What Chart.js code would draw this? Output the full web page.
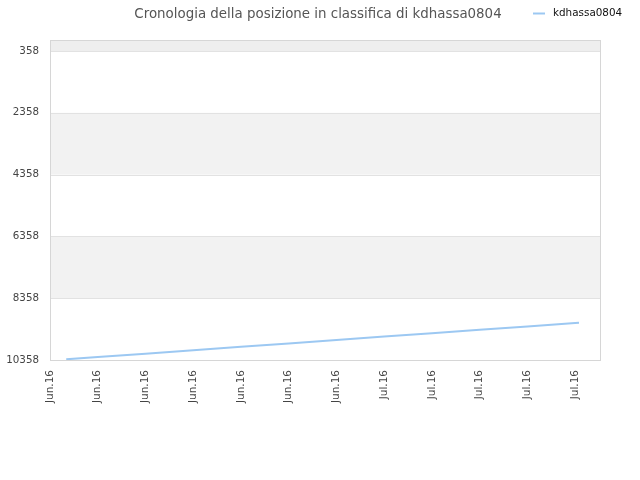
<!DOCTYPE html>
<html>
<head>
<meta charset="utf-8">
<script src="https://cdn.jsdelivr.net/npm/chart.js@4"></script>
<style>
html,body{margin:0;padding:0;background:#fff;}
canvas{display:block;}
</style>
</head>
<body>
<canvas id="c" width="640" height="480"></canvas>
<script>
const titleText = "Cronologia della posizione in classifica di kdhassa0804";
const seriesName = "kdhassa0804";
const xTickLabels = ["Jun.16","Jun.16","Jun.16","Jun.16","Jun.16","Jun.16","Jun.16","Jul.16","Jul.16","Jul.16","Jul.16","Jul.16"];
const pointPos = [0.34, 1, 2, 3, 4, 5, 6, 7, 8, 9, 10, 11, 11.08];
const ranks = [10335, 10262, 10152, 10041, 9931, 9821, 9711, 9600, 9490, 9380, 9270, 9160, 9151];
const yTickValues = [358, 2358, 4358, 6358, 8358, 10358];
const xMax = 11.52;
const yMin = 1;
const yMax = 10358;

const lineColor = '#9cc8f2';

const bandPlugin = {
  id: 'bands',
  beforeDatasetsDraw(chart) {
    const {ctx, chartArea: a, scales: {y}} = chart;
    ctx.save();
    const ranges = [[yMin, yTickValues[0], '#eeeeee'], [yTickValues[1], yTickValues[2], '#f2f2f2'], [yTickValues[3], yTickValues[4], '#f2f2f2']];
    ranges.forEach(([v1, v2, col]) => {
      const p1 = y.getPixelForValue(v1), p2 = y.getPixelForValue(v2);
      ctx.fillStyle = col;
      ctx.fillRect(a.left, Math.min(p1, p2), a.right - a.left, Math.abs(p2 - p1));
    });
    ctx.strokeStyle = '#e2e2e2';
    ctx.lineWidth = 1;
    yTickValues.forEach(v => {
      const p = Math.round(y.getPixelForValue(v)) + 0.5;
      ctx.beginPath(); ctx.moveTo(a.left, p); ctx.lineTo(a.right, p); ctx.stroke();
    });
    ctx.strokeStyle = '#d6d6d6';
    ctx.strokeRect(Math.round(a.left) + 0.5, Math.round(a.top) + 0.5, Math.round(a.right - a.left), Math.round(a.bottom - a.top));
    ctx.restore();
  },
  afterDraw(chart) {
    const ctx = chart.ctx;
    const ds = chart.data.datasets[0];
    ctx.save();
    ctx.strokeStyle = ds.borderColor;
    ctx.lineWidth = 2;
    ctx.beginPath(); ctx.moveTo(533, 13.5); ctx.lineTo(545, 13.5); ctx.stroke();
    ctx.fillStyle = '#111';
    ctx.font = '10.4px "DejaVu Sans"';
    ctx.textBaseline = 'middle';
    ctx.textAlign = 'left';
    ctx.fillText(ds.label, 553, 13);
    ctx.restore();
  }
};

new Chart(document.getElementById('c'), {
  type: 'line',
  data: {
    datasets: [{
      label: seriesName,
      data: pointPos.map((x, i) => ({x: x, y: ranks[i]})),
      borderColor: lineColor,
      backgroundColor: lineColor,
      borderWidth: 2,
      pointRadius: 0,
      tension: 0,
      fill: false
    }]
  },
  options: {
    responsive: false,
    animation: false,
    devicePixelRatio: 1,
    layout: {padding: {left: 0, right: 4, top: 0, bottom: 0}},
    plugins: {
      legend: {display: false},
      tooltip: {enabled: false},
      title: {
        display: true,
        text: titleText,
        color: '#555',
        font: {family: 'DejaVu Sans', size: 13.4, weight: 'normal'},
        padding: {top: 6, bottom: 17.9}
      }
    },
    scales: {
      x: {
        type: 'linear',
        min: 0,
        max: xMax,
        grid: {display: false, drawTicks: false},
        border: {display: false},
        afterBuildTicks: s => { s.ticks = xTickLabels.map((_, i) => ({value: i})); },
        afterFit: s => { s.height = 120; },
        ticks: {
          autoSkip: false,
          minRotation: 90,
          maxRotation: 90,
          padding: 10,
          color: '#444',
          font: {family: 'DejaVu Sans', size: 10.5},
          callback: (v) => xTickLabels[Math.round(v)]
        }
      },
      y: {
        type: 'linear',
        reverse: true,
        min: yMin,
        max: yMax,
        grid: {display: false, drawTicks: false},
        border: {display: false},
        afterBuildTicks: s => { s.ticks = yTickValues.map(v => ({value: v})); },
        afterFit: s => { s.width = 50; },
        ticks: {
          autoSkip: false,
          padding: 11,
          color: '#444',
          font: {family: 'DejaVu Sans', size: 10.3},
          callback: v => String(v)
        }
      },
      yRight: {
        type: 'linear',
        position: 'right',
        display: true,
        min: yMin,
        max: yMax,
        grid: {display: false, drawTicks: false},
        border: {display: false},
        ticks: {display: false},
        afterFit: s => { s.width = 36; }
      }
    }
  },
  plugins: [bandPlugin]
});
</script>
</body>
</html>
